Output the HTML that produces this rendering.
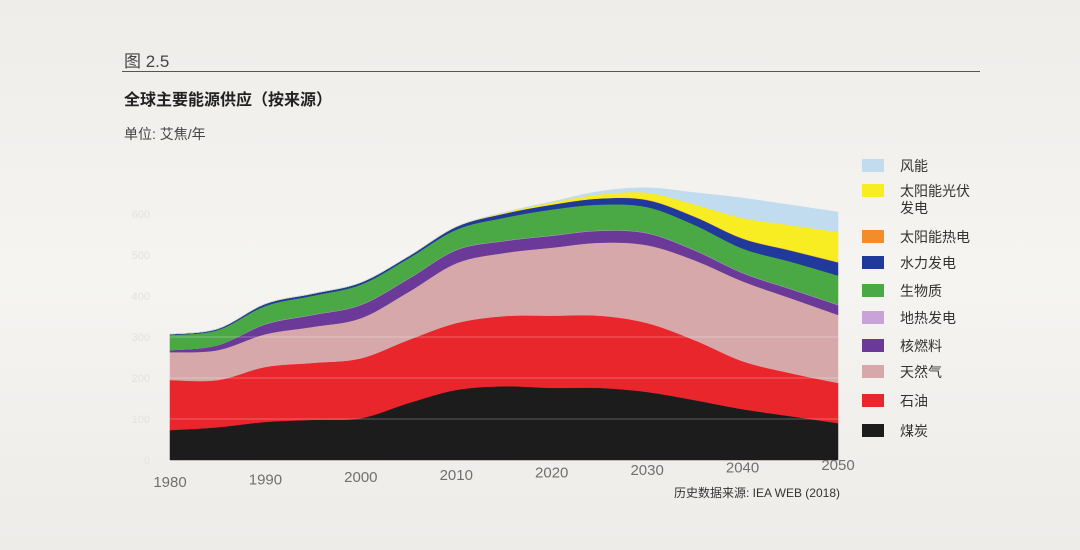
<!DOCTYPE html>
<html><head><meta charset="utf-8">
<style>
body{margin:0;width:1080px;height:550px;overflow:hidden;background:#f2f0ed;font-family:"Liberation Sans","Noto Sans CJK SC",sans-serif;}
#wrap{position:relative;width:1080px;height:550px;background:linear-gradient(180deg,#efedea 0%,#f5f4f1 50%,#eeece9 100%);}
.t{position:absolute;color:#333;white-space:nowrap;}
</style></head><body>
<div id="wrap">
<div class="t" style="left:124px;top:47px;font-size:17px;color:#444">图 2.5</div>
<div style="position:absolute;left:122px;top:71px;width:858px;height:1px;background:#555"></div>
<div class="t" style="left:124px;top:86px;font-size:16px;font-weight:bold;color:#222">全球主要能源供应（按来源）</div>
<div class="t" style="left:124px;top:124px;font-size:14px;color:#444">单位: 艾焦/年</div>
<svg id="chart" width="1080" height="550" style="position:absolute;left:0;top:0"></svg>
</div>
<script>
const years=[1980,1985,1990,1995,2000,2005,2010,2015,2020,2025,2030,2035,2040,2045,2050];
const coal=[73,80,93,98,102,139,171,180,176,176,166,146,124,107,90];
const oil=[122,115,134,139,146,154,163,171,176,176,168,146,117,105,98];
const gas=[68,73,80,88,98,117,146,154,166,178,190,195,195,183,166];
const nuclear=[5,12,24,29,32,32,32,29,29,29,29,24,20,22,24];
const geothermal=[0,0,1,1,1,1,1,1,1,1,1,1,1,1,1];
const bio=[37,37,44,46,49,49,49,56,63,63,63,61,59,66,71];
const hydro=[2,3,5,5,5,5,7,10,12,15,17,20,24,27,32];
const solarThermal=[0,0,0,0,0,0,0,0,0,0,1,1,1,1,1];
const solarPV=[0,0,0,0,0,0,0,2,5,10,17,29,49,61,73];
const wind=[0,0,0,0,0,0,0,1,2,7,12,29,49,49,49];
const seriesNames=["煤炭","石油","天然气","核燃料","地热发电","生物质","水力发电","太阳能热电","太阳能光伏发电","风能"];
const seriesData=[coal,oil,gas,nuclear,geothermal,bio,hydro,solarThermal,solarPV,wind];
const colors=["#1c1c1c","#e8262b","#d6a8a9","#6b3a98","#c9a2d8","#4aa845","#1f3a9a","#f58c2c","#f8ec22","#c0dcee"];
const xTicks=[1980,1990,2000,2010,2020,2030,2040,2050];
const yTicks=[0,100,200,300,400,500,600];
const NS="http://www.w3.org/2000/svg";
const svg=document.getElementById('chart');
const X0=170,X1=838,Y0=460,PX=0.41;
const xs=y=>X0+(y-years[0])/(years[years.length-1]-years[0])*(X1-X0);
const ys=v=>Y0-v*PX;
function mk(t,a){const e=document.createElementNS(NS,t);for(const k in a)e.setAttribute(k,a[k]);svg.appendChild(e);return e;}
function curve(pts){ // catmull-rom segments, pts already started
 let d='';
 for(let i=0;i<pts.length-1;i++){
  const p0=pts[Math.max(i-1,0)],p1=pts[i],p2=pts[i+1],p3=pts[Math.min(i+2,pts.length-1)];
  const c1=[p1[0]+(p2[0]-p0[0])/6,p1[1]+(p2[1]-p0[1])/6];
  const c2=[p2[0]-(p3[0]-p1[0])/6,p2[1]-(p3[1]-p1[1])/6];
  d+=' C'+c1[0]+','+c1[1]+' '+c2[0]+','+c2[1]+' '+p2[0]+','+p2[1];
 }
 return d;
}
yTicks.forEach(v=>{const t=mk('text',{x:150,y:ys(v)+4,'font-size':11,fill:'#e4e1dd','text-anchor':'end'});


t.textContent=v;});
let base=years.map(()=>0);
seriesData.forEach((arr,i)=>{
 const top=base.map((b,j)=>b+arr[j]);
 const tp=years.map((y,j)=>[xs(y),ys(top[j])]);
 const bp=years.map((y,j)=>[xs(y),ys(base[j])]).reverse();
 let d='M'+tp[0][0]+','+tp[0][1]+curve(tp)+' L'+bp[0][0]+','+bp[0][1]+curve(bp)+'Z';
 const p=mk('path',{d:d,fill:colors[i],stroke:colors[i],'stroke-width':0.5});
 
 
 base=top;
});
yTicks.slice(1,4).forEach(v=>{const l=mk('line',{x1:X0,x2:X1,y1:ys(v),y2:ys(v),stroke:'#ffffff','stroke-opacity':0.3,'stroke-width':1});

});
xTicks.forEach((y,i)=>{const t=mk('text',{x:xs(y),y:487-i*2.4,'font-size':15,fill:'#707070','text-anchor':'middle'});


t.textContent=y;});
const src=mk('text',{x:840,y:497,'font-size':12,fill:'#333','text-anchor':'end'});


src.textContent='历史数据来源: IEA WEB (2018)';
const legOrder=[9,8,7,6,5,4,3,2,1,0];
const legY=[166,191,237,263,291,318,346,372,401,431];
const legLabels=["风能","太阳能光伏","太阳能热电","水力发电","生物质","地热发电","核燃料","天然气","石油","煤炭"];
legOrder.forEach((si,k)=>{
 const r=mk('rect',{x:862,y:legY[k]-7,width:22,height:13,fill:colors[si]});
 
 
 const t=mk('text',{x:900,y:legY[k]+5,'font-size':14,fill:'#333'});
 
 
 t.textContent=legLabels[k];
});
const t2=mk('text',{x:900,y:213,'font-size':14,fill:'#333'});


t2.textContent='发电';
</script>
</body></html>
